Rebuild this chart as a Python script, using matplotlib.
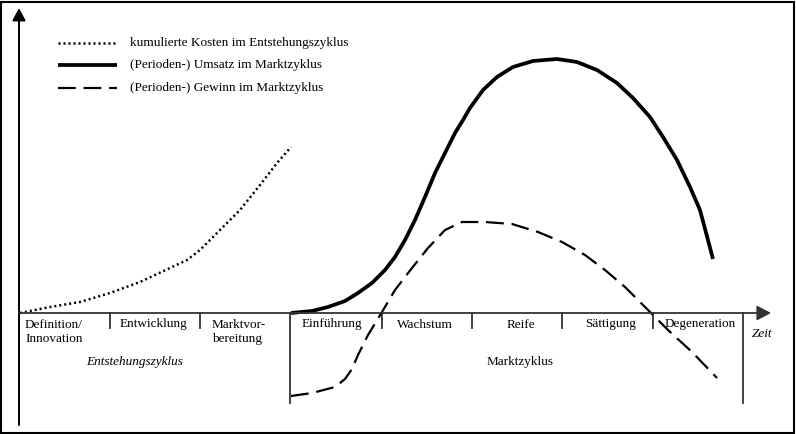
import matplotlib

matplotlib.use("Agg")

import matplotlib.pyplot as plt
from matplotlib.patches import Rectangle

plt.rcParams["font.family"] = ["Liberation Serif", "DejaVu Serif"]

# time axis (x) and values (y, 0 = time axis)
kosten_zeit = [20, 50, 80, 110, 140, 170, 187, 200, 220, 240, 260, 277, 291]
kosten = [0, 6, 11, 20, 31, 45, 53, 63, 83, 103, 128, 150, 166]

umsatz_zeit = [291, 312, 328, 345, 358, 372, 385, 395, 405, 415, 425, 435,
               445, 455, 463, 470, 483, 497, 513, 533, 557, 577, 597, 617,
               633, 650, 663, 677, 690, 700, 713]
umsatz = [0, 2, 6, 12, 20, 30, 43, 56, 73, 93, 116, 140,
          160, 180, 193, 205, 223, 236, 246, 252, 254, 251, 243, 230,
          215, 196, 176, 153, 126, 103, 54]

gewinn_zeit = [291, 312, 335, 345, 352, 358, 368, 382, 395, 412, 428, 445,
               462, 485, 512, 538, 562, 585, 605, 625, 648, 668, 692, 717]
gewinn = [-83, -80, -74, -66, -56, -42, -22, 1, 23, 45, 65, 83,
          91, 91, 89, 81, 71, 58, 43, 26, 3, -17, -39, -65]

# phase boundaries on the time axis
grenzen = [110, 200, 382, 472, 562, 653]
zyklus_grenzen = [290, 743]
phasen = ["Einführung", "Wachstum", "Reife", "Sättigung", "Degeneration"]
phasen_mitte = [332, 425, 521, 611, 700]

fig = plt.figure(figsize=(7.96, 4.34), dpi=100)
ax = fig.add_axes([0, 0, 1, 1])
ax.set_xlim(0, 796)
ax.set_ylim(313 - 434, 313)
ax.axis("off")

# outer frame
ax.add_patch(Rectangle((0.001, 0.003), 0.996, 0.993, transform=ax.transAxes,
                       fill=False, lw=1.5, edgecolor="black"))

# axes with arrows
ax.annotate("", xy=(19, 305), xytext=(19, -112),
            arrowprops=dict(arrowstyle="-|>,head_length=0.75,head_width=0.4",
                            mutation_scale=10, lw=1.4, color="black",
                            shrinkA=0, shrinkB=0))
ax.annotate("", xy=(771, 0), xytext=(19, 0),
            arrowprops=dict(arrowstyle="-|>,head_length=0.85,head_width=0.45",
                            mutation_scale=10, lw=1.3, color="#333333",
                            shrinkA=0, shrinkB=0))

for g in grenzen:
    ax.plot([g, g], [0, -15], color="#333333", lw=1.3)
for g in zyklus_grenzen:
    ax.plot([g, g], [0, -90], color="#333333", lw=1.3)

# curves
punkt = dict(lw=1.8, linestyle=(0, (0.8, 1.2)))
voll = dict(lw=2.7, solid_capstyle="butt", solid_joinstyle="round")
strich = dict(lw=1.6, linestyle=(0, (8, 3.5)))

ax.plot(kosten_zeit, kosten, color="black",
        label="kumulierte Kosten im Entstehungszyklus", **punkt)
ax.plot(umsatz_zeit, umsatz, color="black",
        label="(Perioden-) Umsatz im Marktzyklus", **voll)
ax.plot(gewinn_zeit, gewinn, color="black",
        label="(Perioden-) Gewinn im Marktzyklus", **strich)

# legend drawn by hand at the top left
legende_y = [270, 248, 225]
for line, y, st in zip(ax.get_lines()[-3:], legende_y, [punkt, voll, strich]):
    ax.plot([58, 117], [y, y], color="black", **st)
    ax.text(130, y - 3, line.get_label(), fontsize=9.5, va="baseline",
            ha="left")

# labels
fs = 9.5
ax.text(25, 313 - 341.7, "Definition/\nInnovation", fontsize=fs,
        ha="left", va="baseline", linespacing=1.2, multialignment="left")
ax.text(153, 313 - 327.5, "Entwicklung", fontsize=fs, ha="center",
        va="baseline")
ax.text(212, 313 - 341.7, "Marktvor-\nbereitung", fontsize=fs, ha="left",
        va="baseline", linespacing=1.2, multialignment="left")
for name, x in zip(phasen, phasen_mitte):
    ax.text(x, 313 - 327.5, name, fontsize=fs, ha="center", va="baseline")
ax.text(762, 313 - 337, "Zeit", fontsize=fs, ha="center", va="baseline",
        style="italic")
ax.text(135, 313 - 365, "Entstehungszyklus", fontsize=fs, ha="center",
        va="baseline", style="italic")
ax.text(520, 313 - 365, "Marktzyklus", fontsize=fs, ha="center",
        va="baseline")

fig.savefig("out.png", dpi=100)
plt.close(fig)
